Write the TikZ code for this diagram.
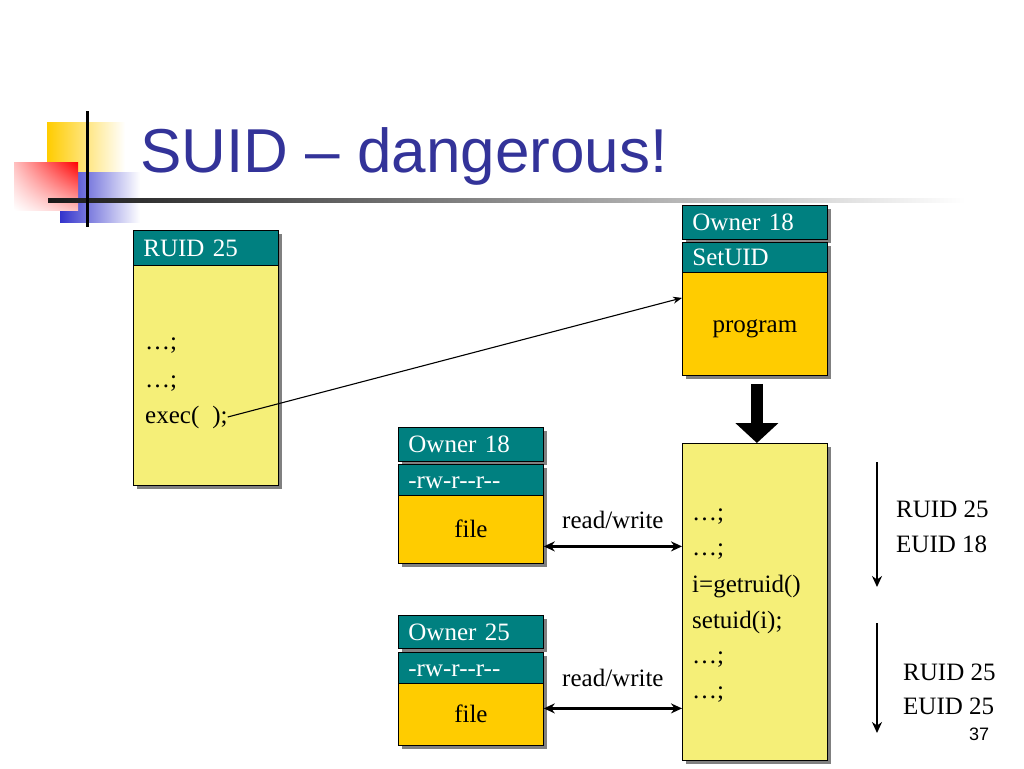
\documentclass[tikz,border=0pt]{standalone}
\usepackage{fontspec}
\setmainfont{Liberation Serif}
\newfontfamily\titlefont{Liberation Sans}
\usetikzlibrary{arrows.meta,shadows,shadings,positioning}

\definecolor{hdrteal}{RGB}{0,128,128}
\definecolor{paleyel}{RGB}{245,239,120}
\definecolor{gold}{RGB}{255,204,0}
\definecolor{titleblue}{RGB}{51,51,153}
\definecolor{logoblue}{RGB}{51,51,204}

\tikzset{
  box/.style={draw=black, line width=0.8pt, anchor=north west, inner sep=0pt,
    minimum width=145pt, text height=17pt, text depth=0pt,
    font=\fontsize{25}{29}\selectfont,
    drop shadow={shadow xshift=4pt, shadow yshift=-4pt, fill=gray, opacity=1}},
  hdr/.style={box, fill=hdrteal, text=white, align=left, text width=125pt, inner xsep=10pt},
  pbody/.style={box, fill=paleyel},
  fbody/.style={box, fill=gold, align=center},
  txt/.style={anchor=base west, inner sep=0pt, font=\fontsize{25}{29}\selectfont},
  rw/.style={{Stealth[length=11pt,width=10pt]}-{Stealth[length=11pt,width=10pt]}, line width=2.8pt},
  dn/.style={-{Stealth[length=11pt,width=10pt]}, line width=2.8pt},
  bigarrow/.style={-{Triangle[length=20pt,width=42pt]}, line width=12pt},
}

\begin{document}
\begin{tikzpicture}[x=1pt,y=-1pt]
\useasboundingbox (0,0) rectangle (1024,768);
\fill[white] (0,0) rectangle (1024,768);

% logo
\shade[left color=gold, middle color=gold, right color=white] (47,122) rectangle (125,180);
\shade[left color=logoblue, middle color=logoblue, right color=white] (60,172) rectangle (140,222);
\shade[upper right=red, upper left=red!25, lower left=white, lower right=red!25] (14,162) rectangle (78,210);
\shade[left color=black!90, right color=white] (48,198) rectangle (965,202);
\draw[line width=3pt] (87,111) -- (87,227);

% title
\node[anchor=base west, inner sep=0pt, text=titleblue,
  font=\titlefont\fontsize{62}{70}\selectfont] (title) at (140,172) {SUID – dangerous!};

% calling process
\node[hdr, minimum height=35pt] (ruidhdr) at (133,230) {RUID 25};
\node[pbody, minimum height=220pt] (ruidbody) at (133,265) {};
\node[txt] (c1) at (145,349) {…;};
\node[txt] (c2) at (145,387) {…;};
\node[txt] (exec) at (145,423) {exec(\hspace{13pt});};

% setuid program
\node[hdr, minimum height=34pt] (ownhdr) at (682,205) {Owner 18};
\node[hdr, minimum height=30pt] (suidhdr) at (682,242) {SetUID};
\node[fbody, minimum height=103pt] (progbody) at (682,272) {program};

% running process
\node[pbody, minimum height=317pt] (proc) at (682,443) {};
\node[txt] (p1) at (692,520) {…;};
\node[txt] (p2) at (692,555) {…;};
\node[txt] (p3) at (692,592) {i=getruid()};
\node[txt] (p4) at (692,628) {setuid(i);};
\node[txt] (p5) at (692,663) {…;};
\node[txt] (p6) at (692,698) {…;};

% files
\node[hdr, minimum height=34pt] (f1own) at (398,427) {Owner 18};
\node[hdr, minimum height=31pt] (f1perm) at (398,464) {-rw-r{-}{-}r{-}{-}};
\node[fbody, minimum height=68pt] (f1body) at (398,495) {file};

\node[hdr, minimum height=33pt] (f2own) at (398,615) {Owner 25};
\node[hdr, minimum height=31pt] (f2perm) at (398,652) {-rw-r{-}{-}r{-}{-}};
\node[fbody, minimum height=62pt] (f2body) at (398,683) {file};

% ids
\coordinate (d1s) at (877,462);
\coordinate (d1e) at (877,587);
\coordinate (d2s) at (877,623);
\coordinate (d2e) at (877,733);
\node[txt] (r1) at (896,517) {RUID 25};
\node[txt] (e1) at (896,552) {EUID 18};
\node[txt] (r2) at (903,680) {RUID 25};
\node[txt] (e2) at (903,714) {EUID 25};
\node[anchor=base west, inner sep=0pt, font=\titlefont\fontsize{18}{20}\selectfont] (pageno) at (969,740) {37};

\draw[-{Stealth[length=9pt,width=7pt]}, line width=1.1pt] (exec.east) -- ([yshift=26pt]progbody.west);
\draw[bigarrow] ([xshift=2pt,yshift=-8pt]progbody.south) -- ([xshift=2pt]proc.north);
\draw[rw] ([yshift=-17pt]f1body.east) -- node[above=13pt, font=\fontsize{25}{29}\selectfont] (rwl1) {read/write} ([yshift=-17pt]f1body.east -| proc.west);
\draw[rw] ([yshift=6pt]f2body.east) -- node[above=17pt, font=\fontsize{25}{29}\selectfont] (rwl2) {read/write} ([yshift=6pt]f2body.east -| proc.west);
\draw[dn] (d1s) -- (d1e);
\draw[dn] (d2s) -- (d2e);
\end{tikzpicture}
\end{document}
